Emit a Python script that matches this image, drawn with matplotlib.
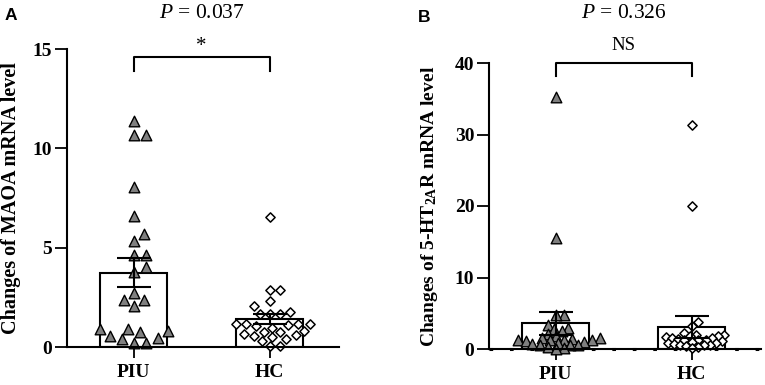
import numpy as np
import matplotlib
matplotlib.use("Agg")
import matplotlib.pyplot as plt

plt.rcParams['font.family'] = ['Liberation Serif', 'DejaVu Serif']
plt.rcParams['mathtext.fontset'] = 'custom'
plt.rcParams['mathtext.rm'] = 'Liberation Serif'
plt.rcParams['mathtext.it'] = 'Liberation Serif:italic'
plt.rcParams['mathtext.bf'] = 'Liberation Serif:bold'

# ---------------- data ----------------
groups = ["PIU", "HC"]

maoa_piu = [11.4, 10.67, 10.67, 8.07, 6.59, 5.71, 5.34, 4.62, 4.62, 4.03, 3.78,
            2.72, 2.35, 2.35, 2.05, 0.74, 0.81, 0.92, 0.92, 0.2, 0.4, 0.54, 0.2, 0.47]
maoa_hc = [6.55, 2.89, 2.89, 2.32, 2.05, 1.65, 1.76, 1.65, 1.65, 1.04, 1.18, 1.18,
           1.09, 1.18, 1.18, 0.97, 0.81, 0.59, 0.67, 0.54, 0.76, 0.76, 0.5, 0.05,
           0.42, 0.05, 0.3]
maoa_mean = [3.74, 1.39]
maoa_sem = [0.73, 0.25]

ht_piu = [35.3, 15.5, 4.7, 4.7, 3.3, 2.9, 2.8, 2.5, 2.1, 1.8, 1.5, 1.5, 1.4, 1.3,
          1.3, 1.2, 1.2, 1.1, 1.0, 0.9, 0.7, 0.6, 0.6, 0.5, 0.3, 0.1, 0.0]
ht_hc = [31.3, 20.0, 3.8, 3.2, 2.2, 2.0, 1.9, 1.8, 1.8, 1.7, 1.6, 1.5, 1.4, 1.3,
         1.2, 1.2, 1.1, 1.0, 0.9, 0.8, 0.7, 0.6, 0.5, 0.5, 0.4, 0.3, 0.1]
ht_mean = [3.6, 3.13]
ht_sem = [1.6, 1.54]

p_texts = ["$P$ = 0.037", "$P$ = 0.326"]
sig_texts = ["*", "NS"]
ylabels = ["Changes of MAOA mRNA level",
           r"Changes of 5-HT$_{\mathbf{2A}}$R mRNA level"]
yticks_list = [[0, 5, 10, 15], [0, 10, 20, 30, 40]]
ylims = [(0, 15), (0, 40)]
panel_letters = ["A", "B"]

# ---------------- figure ----------------
W, H = 765, 385
fig = plt.figure(figsize=(W / 100, H / 100), dpi=100)
axA = fig.add_axes([67 / W, 1 - 347 / H, (339 - 67) / W, (347 - 49) / H])
axB = fig.add_axes([489 / W, 1 - 349 / H, (761 - 489) / W, (349 - 63) / H])


def swarm_offsets(ax, xc, vals, diam_px, step_px):
    """simple deterministic beeswarm in display space"""
    order = np.argsort(vals)
    trans = ax.transData
    placed = []
    offs = np.zeros(len(vals))
    cands = [0.0]
    for j in range(1, 80):
        cands += [j * step_px, -j * step_px]
    for i in order:
        px, py = trans.transform((xc, vals[i]))
        for c in cands:
            ok = True
            for (qx, qy) in placed:
                if (px + c - qx) ** 2 + (py - qy) ** 2 < diam_px ** 2:
                    ok = False
                    break
            if ok:
                placed.append((px + c, py))
                offs[i] = trans.inverted().transform((px + c, py))[0] - xc
                break
    return offs


def panel(ax, piu, hc, means, sems, ylim, yticks, ylabel, sig, bracket_y, sig_y,
          dotted, diams, label_x, label_fs):
    x = np.arange(len(groups))
    ax.set_xlim(-0.49, 1.51)
    ax.set_ylim(*ylim)
    ax.bar(x, means, width=0.49, color="white", edgecolor="black", linewidth=1.5, zorder=1)

    off_p = swarm_offsets(ax, x[0], np.array(piu), diams[0], 2.0)
    off_h = swarm_offsets(ax, x[1], np.array(hc), diams[1], 2.0)
    ax.scatter(x[0] + off_p, piu, marker="^", s=58, facecolor="#7f7f7f",
               edgecolor="black", linewidth=1.0, zorder=2, clip_on=False)
    ax.scatter(x[1] + off_h, hc, marker="D", s=22, facecolor="white",
               edgecolor="black", linewidth=1.1, zorder=2, clip_on=False)

    for xi, m, s in zip(x, means, sems):
        ax.vlines(xi, m - s, m + s, color="black", lw=1.5, zorder=3)
        ax.hlines([m - s, m + s], xi - 0.125, xi + 0.125, color="black", lw=1.5, zorder=3)

    for sp in ["top", "right"]:
        ax.spines[sp].set_visible(False)
    for sp in ["left", "bottom"]:
        ax.spines[sp].set_linewidth(1.5)
    ax.set_xticks(x)
    ax.set_xticklabels(groups, fontsize=14, fontweight="bold")
    ax.set_yticks(yticks)
    ax.set_yticklabels([str(t) for t in yticks], fontsize=14, fontweight="bold")
    ax.tick_params(axis="y", length=8.5, width=1.3, pad=2)
    ax.tick_params(axis="x", length=8, width=1.3, pad=4)
    ax.set_ylabel(ylabel, fontsize=label_fs, fontweight="bold")
    ax.yaxis.set_label_coords(label_x, 0.5)

    if dotted:
        ax.axhline(0, color="black", lw=2.2, ls=(0, (1.2, 5.5)), zorder=0.5, clip_on=False)

    b0, b1 = bracket_y
    ax.plot([x[0], x[0], x[1], x[1]], [b1, b0, b0, b1], color="black", lw=1.5,
            clip_on=False, zorder=4)
    ax.text(0.5, sig_y, sig, ha="center", va="center",
            fontsize=15 if sig == "*" else 13.5, clip_on=False)


panel(axA, maoa_piu, maoa_hc, maoa_mean, maoa_sem, ylims[0], yticks_list[0],
      ylabels[0], sig_texts[0], (14.6, 13.9), 15.15, False, (11.5, 9.0), -0.168, 14.5)
panel(axB, ht_piu, ht_hc, ht_mean, ht_sem, ylims[1], yticks_list[1],
      ylabels[1], sig_texts[1], (40.0, 38.2), 42.4, True, (6.5, 6.0), -0.18, 14.0)

for ax, t in zip([axA, axB], p_texts):
    xd = ax.transData.transform((0.5, 0))[0] / W
    fig.text(xd, 1 - 13 / H, t, ha="center", va="center", fontsize=15.5)

fig.text(11 / W, 1 - 16 / H, panel_letters[0], ha="center", va="center",
         fontsize=12.5, fontweight="bold", family="Liberation Sans")
fig.text(424 / W, 1 - 17 / H, panel_letters[1], ha="center", va="center",
         fontsize=12.5, fontweight="bold", family="Liberation Sans")

fig.savefig("out.png", dpi=100)
